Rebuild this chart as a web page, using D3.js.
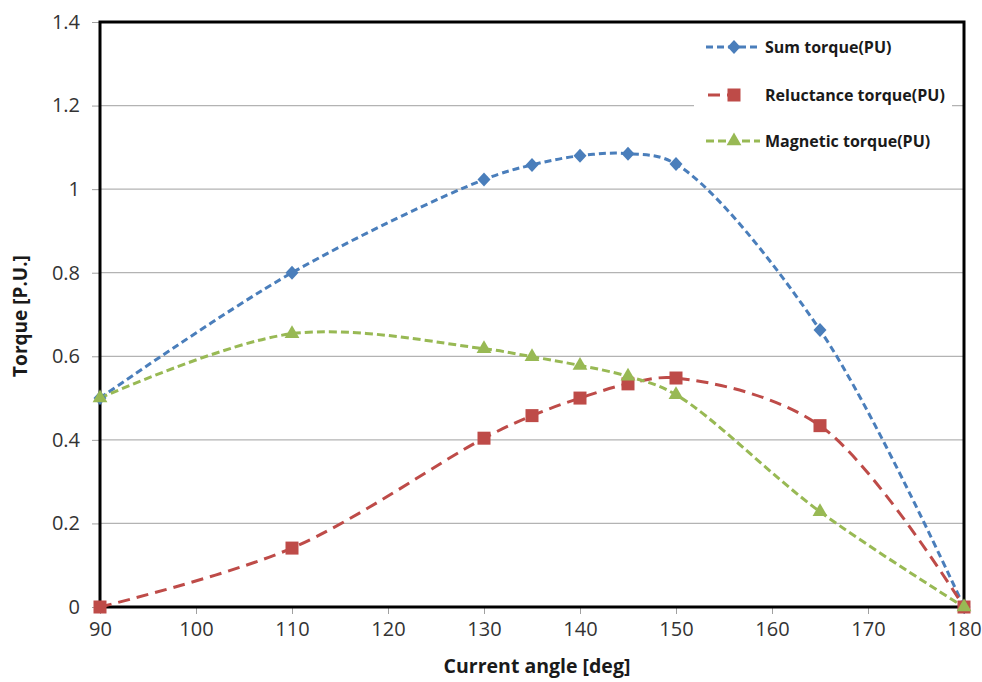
<!DOCTYPE html>
<html><head><meta charset="utf-8">
<script src="https://cdn.jsdelivr.net/npm/d3@7"></script>
<style>body{margin:0;background:#fff}svg{display:block}</style>
</head><body>
<script>
const angles = [90, 110, 130, 135, 140, 145, 150, 165, 180];
const sumTorque = [0.5, 0.80, 1.023, 1.058, 1.08, 1.085, 1.06, 0.663, 0];
const reluctanceTorque = [0, 0.141, 0.404, 0.458, 0.50, 0.534, 0.548, 0.434, 0];
const magneticTorque = [0.5, 0.654, 0.618, 0.599, 0.578, 0.552, 0.508, 0.228, 0];
const xTicks = [90, 100, 110, 120, 130, 140, 150, 160, 170, 180];
const yTicks = [0, 0.2, 0.4, 0.6, 0.8, 1, 1.2, 1.4];
const seriesNames = ["Sum torque(PU)", "Reluctance torque(PU)", "Magnetic torque(PU)"];

const W = 982, H = 682;
const L = 100, R = 964, T = 22, B = 607;
const svg = d3.select("body").append("svg").attr("width", W).attr("height", H);
const x = d3.scaleLinear().domain([90, 180]).range([L, R]);
const y = d3.scaleLinear().domain([0, 1.4]).range([B, T]);
const font = "'Open Sans', sans-serif";

// gridlines
svg.append("g").selectAll("line").data(yTicks.slice(1)).join("line")
  .attr("x1", L).attr("x2", R).attr("y1", d => y(d)).attr("y2", d => y(d))
  .attr("stroke", "#b3b3b3").attr("stroke-width", 1.2);

// axes
const yAxis = d3.axisLeft(y).tickValues(yTicks).tickSize(8).tickPadding(12)
  .tickFormat(d => d3.format("~g")(d));
const gy = svg.append("g").attr("transform", `translate(${L},0)`).call(yAxis);
gy.select(".domain").remove();
gy.selectAll("line").attr("stroke", "#a0a0a0");
gy.selectAll("text").attr("font-family", font).attr("font-size", 20).attr("fill", "#333");

const xAxis = d3.axisBottom(x).tickValues(xTicks).tickSize(7).tickPadding(8);
const gx = svg.append("g").attr("transform", `translate(0,${B})`).call(xAxis);
gx.select(".domain").remove();
gx.selectAll("line").attr("stroke", "#a0a0a0");
gx.selectAll("text").attr("font-family", font).attr("font-size", 20).attr("fill", "#333");

// frame
svg.append("rect").attr("x", L).attr("y", T).attr("width", R - L).attr("height", B - T)
  .attr("fill", "none").attr("stroke", "#000").attr("stroke-width", 3);

// legend background
svg.append("rect").attr("x", 694).attr("y", 28).attr("width", 258).attr("height", 132).attr("fill", "#fff");

const series = [
  {name: seriesNames[0], vals: sumTorque, color: "#4a7ebb", dash: "7,4", shape: "diamond"},
  {name: seriesNames[1], vals: reluctanceTorque, color: "#be4b48", dash: "12,7", shape: "square"},
  {name: seriesNames[2], vals: magneticTorque, color: "#98b954", dash: "8,4", shape: "triangle"}
];
const line = d3.line().x(d => x(d[0])).y(d => y(d[1])).curve(d3.curveCatmullRom.alpha(0.5));

function marker(g, s, cx, cy) {
  if (s.shape === "diamond") {
    g.append("path").attr("d", "M0,-7L6.5,0L0,7L-6.5,0Z").attr("transform", `translate(${cx},${cy})`).attr("fill", s.color);
  } else if (s.shape === "square") {
    g.append("rect").attr("x", cx - 6.5).attr("y", cy - 6.5).attr("width", 13).attr("height", 13).attr("fill", s.color);
  } else {
    g.append("path").attr("d", d3.symbol(d3.symbolTriangle, 95)()).attr("transform", `translate(${cx},${cy})`).attr("fill", s.color);
  }
}

series.forEach(s => {
  const pts = angles.map((a, i) => [a, s.vals[i]]);
  svg.append("path").attr("d", line(pts)).attr("fill", "none").attr("stroke", s.color)
    .attr("stroke-width", 3).attr("stroke-dasharray", s.dash);
});
series.forEach(s => {
  const g = svg.append("g");
  angles.forEach((a, i) => marker(g, s, x(a), y(s.vals[i])));
});

// legend
const legY = [47, 95, 141];
series.forEach((s, i) => {
  const g = svg.append("g");
  const x0 = i === 1 ? 708 : 706, x1 = i === 1 ? 740 : 760;
  g.append("line").attr("x1", x0).attr("x2", x1).attr("y1", legY[i]).attr("y2", legY[i])
    .attr("stroke", s.color).attr("stroke-width", 3).attr("stroke-dasharray", s.dash);
  marker(g, s, 734, legY[i]);
  g.append("text").attr("x", 765).attr("y", legY[i]).attr("dy", "0.35em")
    .attr("font-family", font).attr("font-weight", "bold").attr("font-size", 16).attr("fill", "#1a1a1a")
    .text(s.name);
});

// axis titles
svg.append("text").attr("x", 537).attr("y", 666).attr("dy", "0.35em").attr("text-anchor", "middle")
  .attr("font-family", font).attr("font-weight", "bold").attr("font-size", 19.5).attr("fill", "#1a1a1a")
  .text("Current angle [deg]");
svg.append("text").attr("transform", "translate(20,316) rotate(-90)").attr("dy", "0.35em").attr("text-anchor", "middle")
  .attr("font-family", font).attr("font-weight", "bold").attr("font-size", 19).attr("fill", "#1a1a1a")
  .text("Torque [P.U.]");
</script>
</body></html>
